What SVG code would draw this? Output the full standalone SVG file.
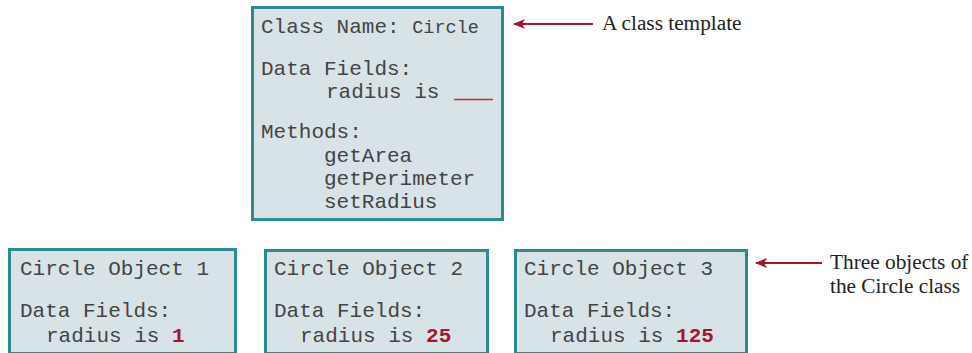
<svg xmlns="http://www.w3.org/2000/svg" width="972" height="353" viewBox="0 0 972 353">
<style>
.box{fill:#d7e3e6;stroke:#2b8b8f;stroke-width:3}
.m{font-family:"Liberation Mono","Courier New",monospace;font-size:21px;fill:#444444}
.v{font-weight:bold;fill:#a3162c}
.lab{font-family:"Liberation Serif","Times New Roman",serif;font-size:21.3px;fill:#222}
.conn{stroke:#a3162c;stroke-width:2;fill:none}
</style>
<defs>
<marker id="ah" viewBox="0 0 12 10" refX="11" refY="5" markerWidth="12" markerHeight="10" markerUnits="userSpaceOnUse" orient="auto">
<path d="M0,0 L12,5 L0,10 L3,5 Z" fill="#a3162c"/>
</marker>
</defs>
<rect width="972" height="353" fill="#ffffff"/>
<g id="class-circle">
<rect class="box" x="252.5" y="7.5" width="250" height="212"/>
<text class="m" x="261" y="33">Class Name: <tspan font-size="18.5px">Circle</tspan></text>
<text class="m" x="261" y="75">Data Fields:</text>
<text class="m" x="326" y="98">radius is</text>
<line x1="454" y1="99.5" x2="493" y2="99.5" stroke="#c8283e" stroke-width="1.5"/>
<text class="m" x="261" y="138">Methods:</text>
<text class="m" x="324" y="162">getArea</text>
<text class="m" x="324" y="185">getPerimeter</text>
<text class="m" x="324" y="208">setRadius</text>
</g>
<g id="object1">
<rect class="box" x="9.5" y="249.5" width="226" height="104"/>
<text class="m" x="20" y="275">Circle Object 1</text>
<text class="m" x="20" y="317">Data Fields:</text>
<text class="m" x="46" y="342">radius is <tspan class="v">1</tspan></text>
</g>
<g id="object2">
<rect class="box" x="265.5" y="250.5" width="222" height="103"/>
<text class="m" x="274" y="275">Circle Object 2</text>
<text class="m" x="274" y="317">Data Fields:</text>
<text class="m" x="300" y="342">radius is <tspan class="v">25</tspan></text>
</g>
<g id="object3">
<rect class="box" x="515.5" y="250.5" width="231" height="103"/>
<text class="m" x="524" y="275">Circle Object 3</text>
<text class="m" x="524" y="317">Data Fields:</text>
<text class="m" x="550" y="342">radius is <tspan class="v">125</tspan></text>
</g>
<g id="label-template">
<text class="lab" x="602" y="30">A class template</text>
</g>
<g id="label-objects">
<text class="lab" x="830" y="269">Three objects of</text>
<text class="lab" x="830" y="293">the Circle class</text>
</g>
<g id="connectors">
<line class="conn" x1="593" y1="24" x2="514" y2="24" marker-end="url(#ah)"/>
<line class="conn" x1="822" y1="263" x2="756" y2="263" marker-end="url(#ah)"/>
</g>
</svg>
